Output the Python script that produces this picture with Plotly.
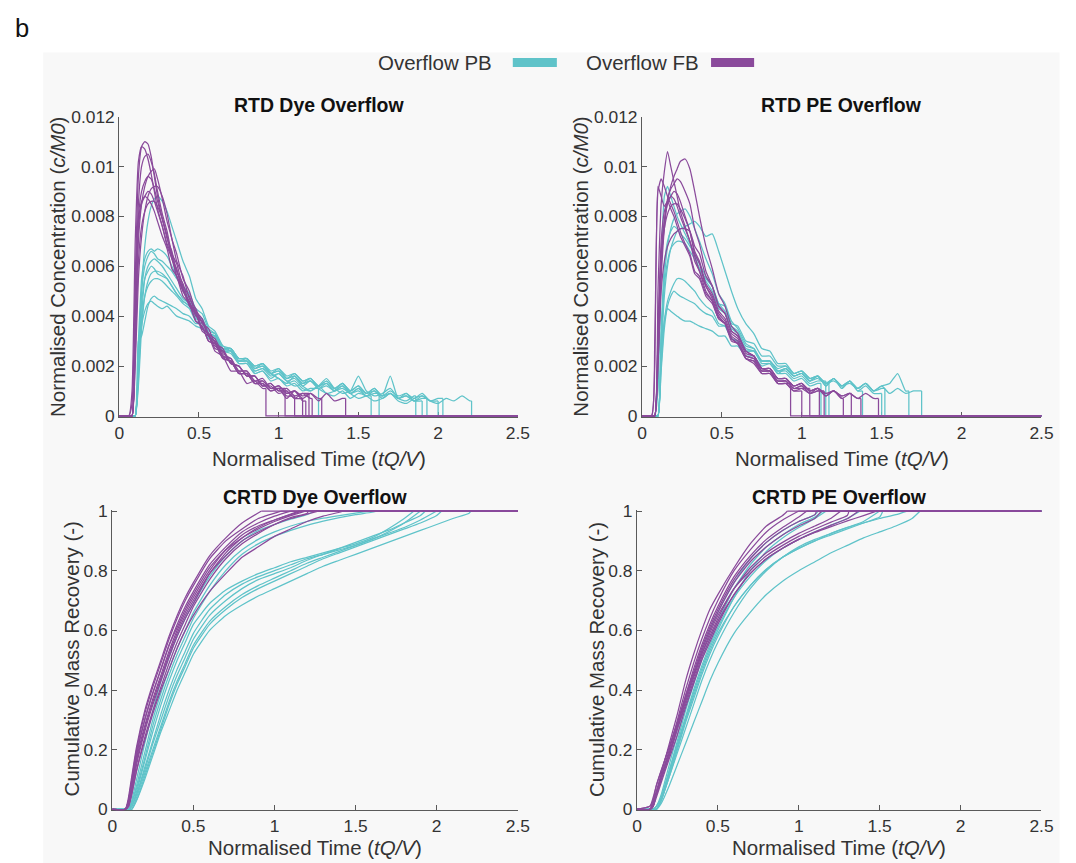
import plotly.graph_objects as go

# Layout is specified in target picture pixels; the helpers below convert them to
# figure pixels (page offset of the written html plus the photo's fixed framing).
PAGE_OFF = 8
FRAME_X, SCALE_X = 5.0, 0.983
FRAME_Y, SCALE_Y = 9.7, 0.977


def fig_x(t):
    return (t - FRAME_X) / SCALE_X - PAGE_OFF


def fig_y(t):
    return (t - FRAME_Y) / SCALE_Y - PAGE_OFF


W = int(round(fig_x(1076))) + 1
H = int(round(fig_y(863))) + 1
FS = 1.0 / SCALE_Y  # font compensation
FONT = "Liberation Sans, Arial, Helvetica, sans-serif"
TEAL = "#5fc3c9"
PURPLE = "#8a4a9b"

# ---------------- time grids (tQ/V) ----------------
RTD_T = [0, 0.06, 0.08, 0.10, 0.12, 0.14, 0.16, 0.18, 0.20, 0.22, 0.24, 0.27, 0.30, 0.33, 0.36,
         0.40, 0.44, 0.48, 0.52, 0.56, 0.60, 0.65, 0.70, 0.75, 0.80, 0.85, 0.90, 0.95, 1.00,
         1.05, 1.10, 1.15, 1.20, 1.25, 1.30, 1.35, 1.40, 1.45, 1.50, 1.55, 1.60, 1.65, 1.70,
         1.75, 1.80, 1.85, 1.90, 1.95, 2.00, 2.05, 2.10, 2.15, 2.20]
CRTD_T = [0, 0.08, 0.10, 0.12, 0.15, 0.20, 0.25, 0.30, 0.35, 0.40, 0.45, 0.50, 0.60, 0.70,
          0.80, 0.90, 1.00, 1.10, 1.20, 1.30, 1.40, 1.50, 1.60, 1.70, 1.80, 1.90, 2.00, 2.10, 2.20]

# ---------------- RTD Dye, values in 1e-4 c/M0 ----------------
DYE_RTD_FB = [
    [0,0,0,55,96,108,110,109,104,96,88,79,72,64,58,51,45,41,34,32,26,24,18,18,13,14,11],
    [0,0,10,70,102,108,107,103,97,90,83,76,68,63,56,50,45,38,36,30,29,23,22,17,17,13,13,10,11],
    [0,0,0,40,85,100,104,105,102,97,90,81,74,65,61,52,48,41,38,32,30,24,23,18,18,14,14,11,11,8],
    [0,0,0,30,70,85,92,96,98,99,95,87,78,71,62,56,47,43,37,35,29,27,21,20,16,16,12,12,9,10,7],
    [0,0,5,50,80,90,94,96,95,91,86,79,72,63,59,50,46,40,38,32,30,24,22,17,17,13,13,10,11,7,10,6],
    [0,0,0,35,75,85,88,90,89,86,82,76,69,64,56,51,44,41,35,33,27,26,21,20,16,16,12,13,10,10,7,9],
    [0,0,0,45,78,86,88,87,85,82,78,72,67,59,56,48,45,38,36,30,29,23,22,17,17,13,14,11,12,9,10,7,9,6,9,6,7],
    [0,0,0,25,62,76,82,85,86,86,84,79,71,66,58,53,45,42,35,33,28,26,21,20,16,16,12,13,10,11,8,9,7],
    [0,0,0,20,55,72,82,88,91,92,92,88,81,71,65,55,50,42,39,33,31,25,23,18,18,14,15,11,12,9,10,8,9,7],
]
DYE_RTD_FB_END = [0.92, 1.04, 1.10, 1.15, 1.17, 1.19, 1.42, 1.21, 1.27]

DYE_RTD_PB = [
    [0,0,0,0,20,50,68,78,84,87,88,86,82,76,70,62,56,47,43,36,34,28,26,21,21,17,18,14,15,12,13,10,11],
    [0,0,0,0,30,55,63,66,67,66,67,66,64,60,56,51,47,41,39,33,32,26,25,21,21,17,18,15,17,14,12,13,15,11,9,10,13,9,7,8],
    [0,0,0,0,25,50,60,64,66,65,63,62,60,58,55,52,49,43,41,35,33,27,26,22,22,18,19,16,17,14,15,12,14,11,12,10,11,9,10,8,9],
    [0,0,0,0,15,40,55,60,62,63,62,60,57,54,51,47,45,40,39,34,33,28,27,22,22,18,19,17,15,13,16,12,10,12,15,11,9,10,16,10,8,9,11,7,6,8],
    [0,0,0,0,20,45,55,58,60,59,57,56,55,52,49,46,44,39,38,33,32,27,27,23,23,19,20,17,18,15,16,13,14,11,13,10,12,9,11,9,10,8,9,7,8,6],
    [0,0,0,0,18,38,48,52,54,55,55,54,52,50,48,45,43,38,37,32,31,26,26,22,22,19,20,17,18,15,16,13,14,12,13,10,12,9,11,8,10,7,9,7,8,6,7],
    [0,0,0,0,30,32,38,44,47,48,47,46,45,44,43,41,40,37,37,33,32,27,27,23,23,20,21,18,19,16,17,14,15,12,14,11,13,10,12,9,11,8,16,7,9,6,8,6],
    [0,0,0,0,22,36,42,45,46,45,44,43,44,42,40,39,38,36,35,31,30,26,26,22,23,19,21,17,19,15,17,14,15,12,14,11,13,10,12,9,11,8,10,8,9,7,9,6,7],
    [0,0,0,0,12,35,48,54,57,58,58,57,55,52,49,46,44,39,38,33,32,27,27,23,23,20,21,17,15,13,14,11,10,12,9,8,10,7,9,8,6,7,9,6,5,7,8,6,5,7,6,8,6],
]
DYE_RTD_PB_END = [1.25, 1.58, 1.63, 1.86, 1.90, 1.93, 2.00, 2.03, 2.21]

# ---------------- RTD PE, values in 1e-4 c/M0 ----------------
PE_RTD_FB = [
    [0,0,0,50,85,98,106,100,94,88,82,76,70,64,58,52,47,40,37,30,29,23,22,17,17,13,13],
    [0,0,0,20,55,75,86,92,96,99,102,103,99,90,80,68,59,49,44,36,33,26,24,19,18,13,13,10],
    [0,0,30,90,95,92,88,85,82,78,74,69,65,58,56,49,46,39,37,31,29,23,21,17,17,13,13,10,11],
    [0,0,20,92,88,84,86,83,80,76,72,68,64,57,55,48,45,39,37,31,29,24,23,18,18,14,14,11,12,9,10],
    [0,0,0,30,65,78,85,88,90,89,86,80,74,65,61,52,48,41,38,32,30,24,23,18,18,14,14,11,11,9,10],
    [0,0,0,25,60,78,87,91,93,95,94,90,85,75,69,58,52,44,41,34,32,26,24,19,19,15,15,12,13,10,11,8,10,7],
    [0,0,0,35,70,82,86,88,87,84,80,75,70,62,58,50,46,39,37,31,29,23,22,18,18,14,14,11,12,9,11,8,10,7,9],
    [0,0,0,20,50,62,68,71,73,74,75,75,74,68,65,56,52,44,41,34,32,26,24,19,19,15,15,12,13,10,11,9,10,8,9,7],
    [0,0,0,30,62,75,81,84,85,85,83,79,74,66,62,53,49,42,39,33,31,25,24,19,19,15,15,12,13,10,11,9,10,8,9,7,9,7],
]
PE_RTD_FB_END = [0.93, 1.00, 1.05, 1.11, 1.14, 1.26, 1.31, 1.37, 1.48]

PE_RTD_PB = [
    [0,0,0,10,60,88,92,88,84,80,77,73,69,64,59,54,50,43,41,35,33,27,26,21,21,17,17,14,15,12,13],
    [0,0,0,0,30,55,68,75,79,81,82,83,80,75,70,63,57,49,45,38,35,29,27,22,22,18,18,15,16,13,14],
    [0,0,0,0,25,48,60,67,71,74,75,76,77,78,76,72,73,66,58,50,43,37,33,27,26,21,21,17,18,15,16,13],
    [0,0,0,0,35,60,70,74,76,75,73,71,68,65,61,56,52,45,42,36,34,28,27,22,22,18,19,16,17,14,16,12,15,11,14,10],
    [0,0,0,0,20,38,46,50,53,55,55,54,52,50,47,44,42,37,36,31,30,26,26,22,22,18,19,16,17,14,16,12,15,11,14,10,12,9],
    [0,0,0,0,18,35,44,48,50,49,48,47,46,45,43,41,40,36,36,31,30,26,26,22,22,19,20,17,18,15,16,13,15,12,14,11,13,10,11],
    [0,0,0,0,25,38,43,42,41,40,39,38,38,37,36,35,34,32,32,28,28,24,24,20,21,17,19,16,17,14,15,13,14,12,13,11,13,10,12,13,17,10],
    [0,0,0,0,30,52,62,67,69,70,70,69,66,63,59,55,52,45,44,37,36,30,29,24,24,20,20,17,18,15,16,13,15,12,14,11,13,10,12,9,11,9,10],
]
PE_RTD_PB_END = [1.12, 1.15, 1.17, 1.38, 1.50, 1.52, 1.67, 1.75]

# ---------------- CRTD Dye, values in % recovered ----------------
DYE_CRTD_FB = [
    [0,0,4,11,21,33,42,50,58,65,71,76,85,91,96],
    [0,0,3,10,20,32,41,49,57,64,70,75,84,90,94,97.5],
    [0,0,2,8,18,30,39,47,55,62,68,73,82,88,93,96,98.3],
    [0,0,2,8,17,28,37,45,53,60,66,71,80,87,92,95,97,99],
    [0,0,3,9,19,30,39,47,55,61,67,72,81,87,91,94.5,97,98.8],
    [0,0,1,6,15,26,35,43,51,58,64,69,79,86,91,94,96.5,98.5],
    [0,0,2,7,16,27,36,44,52,59,65,70,79,85,90,93,95.5,97.5,99],
    [0,0,1,5,13,24,33,41,49,56,62,68,77,84,89,92.5,95.5,97.8,99.2],
    [0,0,1,5,13,23,32,40,47,54,60,65,73,79,84.5,88,91.5,94,96.5,98.3,99.6],
]
DYE_CRTD_FB_END = [0.92, 1.04, 1.10, 1.15, 1.17, 1.19, 1.27, 1.21, 1.42]

DYE_CRTD_PB = [
    [0,0,0,3,10,22,33,43,51,58,64,69,78,85,90,93.5,95.5,97.3,98.8],
    [0,0,0,2,8,19,30,39,47,54,60,66,75,82,87,90.5,93,95,96.5,97.6,98.5,99.3],
    [0,0,0,2,7,17,28,37,45,52,58,64,73,80,85.5,89,91.5,93.5,95.2,96.6,97.8,98.8,99.6],
    [0,0,0,1,6,16,26,35,43,50,56,62,69,73.5,76.5,79,81,83,84.5,86,87.5,89,91,94,97.5],
    [0,0,0,1,5,14,23,32,40,47,53,59,67,72,75.5,78,80,82,84,85.5,87,88.5,90.5,93,96],
    [0,0,0,1,5,13,22,30,38,45,51,57,65,70,74,77,79,81,83.5,85.5,87.5,89.5,91.5,93.5,96,98.5],
    [0,0,0,0,4,12,20,28,36,43,49,55,63,68,72,75,77.5,80,82.5,84.5,86.5,88.5,90.5,92.5,94.5,97],
    [0,0,0,0,3,11,19,27,35,42,48,54,62,67,71,74,76.5,79,81.5,84,86,88,90,92,94,96,98.5],
    [0,0,0,0,3,10,18,26,33,40,46,52,60,65,68.5,71.5,74,76.5,79,81.5,83.5,85.5,87.5,89.5,91.5,93.5,95.5,97.5,99.3],
]
DYE_CRTD_PB_END = [1.25, 1.58, 1.63, 1.86, 1.90, 1.93, 2.00, 2.03, 2.21]

# ---------------- CRTD PE, values in % recovered ----------------
PE_CRTD_FB = [
    [0,1,3,6,12,22,32,43,52,60,67,72,81,89,95,98.5],
    [0,0,2,5,11,20,30,40,49,57,64,70,80,87,93,97],
    [0,1,4,8,13,21,29,38,47,55,62,68,78,85,90.5,94.5,98],
    [0,0,3,8,13,21,29,38,46,54,61,67,77,84,89.5,93.5,96.5,98.8],
    [0,0,1,5,11,19,28,37,45,53,60,66,76,83,88,92,95,97.6],
    [0,0,1,5,10,18,27,36,44,52,58,64,74,81,86,89.5,92.5,95,97.6],
    [0,0,2,6,11,19,28,37,45,52,59,65,74,80,85,88.5,91.5,94,96.3,98.5],
    [0,0,1,4,9,17,25,34,42,50,56,62,72,79,84,87.5,90.5,93,95.3,97.4],
    [0,0,1,5,10,18,27,35,43,51,57,63,72,79,84,87.5,90.5,92.8,94.8,96.7,98.5],
]
PE_CRTD_FB_END = [0.93, 1.00, 1.05, 1.11, 1.14, 1.26, 1.31, 1.37, 1.48]

PE_CRTD_PB = [
    [0,0,0,1,5,15,25,35,45,53,60,66,76,84,89.5,93.5,96.5,98.8],
    [0,0,0,1,4,13,23,33,42,50,57,63,74,82,88,92,95.5,98],
    [0,0,0,0,3,12,21,30,39,47,54,60,71,80,86.5,91,94.5,97.5],
    [0,0,0,1,4,13,22,31,40,48,55,61,71,78,83.5,87.5,90.5,93,95.3,97.5],
    [0,0,0,0,3,11,19,27,35,43,50,56,66,74,80,84.5,88,90.5,92.5,94.5,96.5],
    [0,0,0,0,3,11,20,29,37,45,52,58,68,75,80.5,84.5,87.5,90,92,94,96,98],
    [0,0,0,0,3,12,21,30,38,46,53,59,68,75,80.5,84.5,87.5,90,92.5,94.5,96,97.5,98.8],
    [0,0,0,0,2,8,15,22,29,36,43,49,59,66,72,76.5,80,83,86,88.5,91,93,95,97.5],
]
PE_CRTD_PB_END = [1.12, 1.15, 1.17, 1.38, 1.50, 1.52, 1.67, 1.75]

X_TICKS = [0, 0.5, 1, 1.5, 2, 2.5]
X_TICKTEXT = ["0", "0.5", "1", "1.5", "2", "2.5"]
RTD_YTICKS = [0, 0.002, 0.004, 0.006, 0.008, 0.010, 0.012]
RTD_YTICKTEXT = ["0", "0.002", "0.004", "0.006", "0.008", "0.01", "0.012"]
CRTD_YTICKS = [0, 0.2, 0.4, 0.6, 0.8, 1.0]
CRTD_YTICKTEXT = ["0", "0.2", "0.4", "0.6", "0.8", "1"]
X_MAX = 2.5


def px(t):
    return min(1.0, max(0.0, fig_x(t) / W))


def py(t):
    return min(1.0, max(0.0, 1 - fig_y(t) / H))


fig = go.Figure()


def line_trace(xs, ys, color, xa, ya, spline):
    return go.Scatter(x=xs, y=ys, mode="lines", xaxis=xa, yaxis=ya, hoverinfo="skip",
                      line=dict(color=color, width=1.25,
                                shape="spline" if spline else "linear",
                                smoothing=0.5 if spline else None))


def add_rtd(curves, ends, color, xa, ya):
    for vals, end in zip(curves, ends):
        n = len(vals)
        last = vals[-1] / 10000
        fig.add_trace(line_trace(RTD_T[:n] + [end], [v / 10000 for v in vals] + [last],
                                 color, xa, ya, True))
        fig.add_trace(line_trace([end, end, X_MAX], [last, 0, 0], color, xa, ya, False))


def add_crtd(curves, ends, color, xa, ya):
    for vals, end in zip(curves, ends):
        n = len(vals)
        fig.add_trace(line_trace(CRTD_T[:n] + [end], [v / 100 for v in vals] + [1.0],
                                 color, xa, ya, True))
        fig.add_trace(line_trace([end, X_MAX], [1.0, 1.0], color, xa, ya, False))


add_rtd(DYE_RTD_PB, DYE_RTD_PB_END, TEAL, "x", "y")
add_rtd(DYE_RTD_FB, DYE_RTD_FB_END, PURPLE, "x", "y")
add_rtd(PE_RTD_PB, PE_RTD_PB_END, TEAL, "x2", "y2")
add_rtd(PE_RTD_FB, PE_RTD_FB_END, PURPLE, "x2", "y2")
add_crtd(DYE_CRTD_PB, DYE_CRTD_PB_END, TEAL, "x3", "y3")
add_crtd(DYE_CRTD_FB, DYE_CRTD_FB_END, PURPLE, "x3", "y3")
add_crtd(PE_CRTD_PB, PE_CRTD_PB_END, TEAL, "x4", "y4")
add_crtd(PE_CRTD_FB, PE_CRTD_FB_END, PURPLE, "x4", "y4")

axis_common = dict(showline=True, linecolor="#5a5a5a", linewidth=1, ticks="inside", ticklen=5,
                   tickcolor="#5a5a5a", tickwidth=1, showgrid=False, zeroline=False, mirror=False,
                   layer="below traces", tickfont=dict(family=FONT, size=17 * FS, color="#333333"))

top_y = [py(416), py(116)]
bot_y = [py(809), py(509)]

fig.update_layout(
    xaxis=dict(domain=[px(119), px(517)], anchor="y", range=[0, X_MAX], tickvals=X_TICKS,
               ticktext=X_TICKTEXT, **axis_common),
    yaxis=dict(domain=top_y, anchor="x", range=[-0.00004, 0.012], tickvals=RTD_YTICKS,
               ticktext=RTD_YTICKTEXT, **axis_common),
    xaxis2=dict(domain=[px(641), px(1040)], anchor="y2", range=[0, X_MAX], tickvals=X_TICKS,
                ticktext=X_TICKTEXT, **axis_common),
    yaxis2=dict(domain=top_y, anchor="x2", range=[-0.00004, 0.012], tickvals=RTD_YTICKS,
                ticktext=RTD_YTICKTEXT, **axis_common),
    xaxis3=dict(domain=[px(112), px(517)], anchor="y3", range=[0, X_MAX], tickvals=X_TICKS,
                ticktext=X_TICKTEXT, **axis_common),
    yaxis3=dict(domain=bot_y, anchor="x3", range=[-0.0035, 1.0035], tickvals=CRTD_YTICKS,
                ticktext=CRTD_YTICKTEXT, **axis_common),
    xaxis4=dict(domain=[px(636), px(1040)], anchor="y4", range=[0, X_MAX], tickvals=X_TICKS,
                ticktext=X_TICKTEXT, **axis_common),
    yaxis4=dict(domain=bot_y, anchor="x4", range=[-0.0035, 1.0035], tickvals=CRTD_YTICKS,
                ticktext=CRTD_YTICKTEXT, **axis_common),
)

annotations = []


def ann(text, x, y, size, color="#333333", xanchor="center", yanchor="middle", angle=0):
    annotations.append(dict(text=text, x=px(x), y=py(y), xref="paper", yref="paper",
                            showarrow=False, xanchor=xanchor, yanchor=yanchor, textangle=angle,
                            font=dict(family=FONT, size=size * FS, color=color)))


ann("b", 10, 28, 25, color="#111111", xanchor="left")
ann("<b>RTD Dye Overflow</b>", 318, 104, 19, color="#111111")
ann("<b>RTD PE Overflow</b>", 840.5, 104, 19, color="#111111")
ann("<b>CRTD Dye Overflow</b>", 314.5, 496, 19, color="#111111")
ann("<b>CRTD PE Overflow</b>", 838, 496, 19, color="#111111")
for xc, yc in [(318, 458), (840.5, 458), (314.5, 846), (838, 846)]:
    ann("Normalised Time (<i>tQ/V</i>)", xc, yc, 20)
ann("Normalised Concentration (<i>c/M0</i>)", 58, 266, 20, angle=-90)
ann("Normalised Concentration (<i>c/M0</i>)", 580, 266, 20, angle=-90)
ann("Cumulative Mass Recovery (-)", 71, 658, 20, angle=-90)
ann("Cumulative Mass Recovery (-)", 595, 658, 20, angle=-90)
ann("Overflow PB", 493, 62, 20, xanchor="right")
ann("Overflow FB", 583, 62, 20, xanchor="left")

shapes = [
    dict(type="rect", xref="paper", yref="paper", x0=px(43), x1=px(1058), y0=0, y1=py(52),
         fillcolor="#f8f8f8", line=dict(width=0), layer="below"),
    dict(type="rect", xref="paper", yref="paper", x0=px(512), x1=px(556), y0=py(66.5), y1=py(57.5),
         fillcolor=TEAL, line=dict(width=0)),
    dict(type="rect", xref="paper", yref="paper", x0=px(710), x1=px(753), y0=py(66.5), y1=py(57.5),
         fillcolor=PURPLE, line=dict(width=0)),
]

fig.update_layout(
    width=W, height=H, autosize=False,
    margin=dict(l=0, r=0, t=0, b=0),
    paper_bgcolor="white", plot_bgcolor="rgba(0,0,0,0)",
    showlegend=False,
    annotations=annotations, shapes=shapes,
    font=dict(family=FONT, color="#333333"),
)

fig.write_html("out.html")
